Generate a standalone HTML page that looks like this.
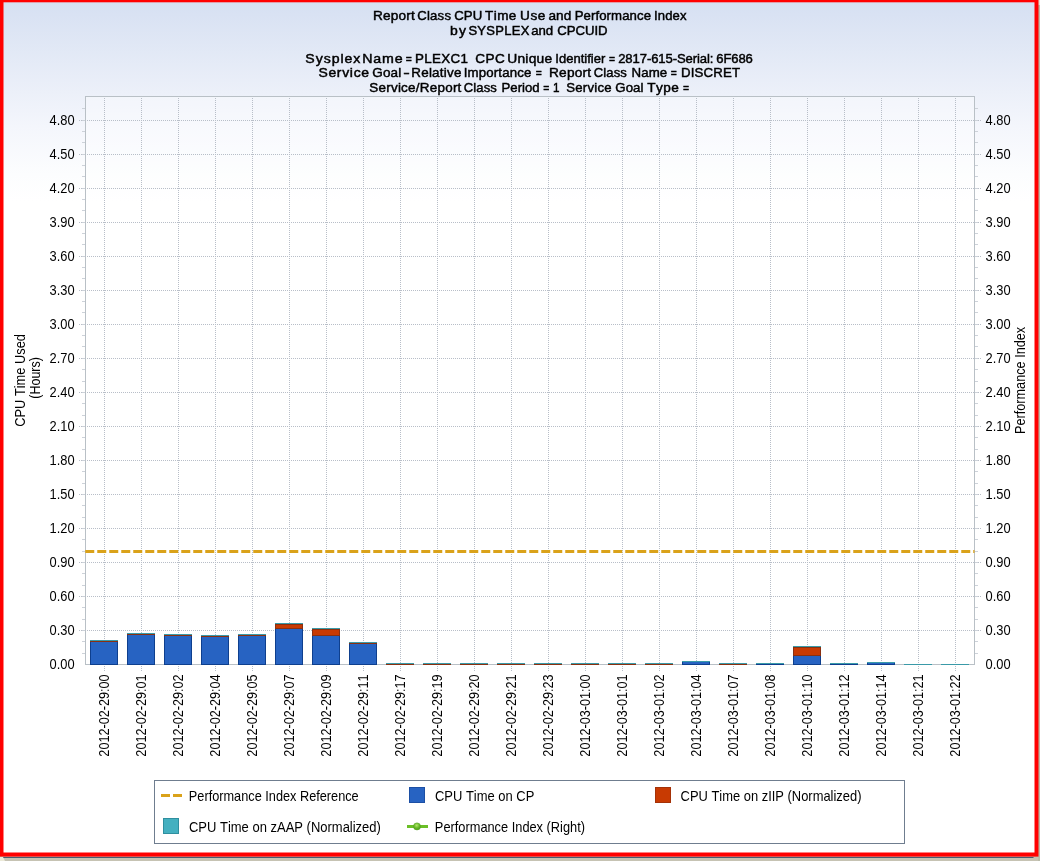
<!DOCTYPE html>
<html><head><meta charset="utf-8"><title>Report Class CPU Time Use and Performance Index</title>
<style>
html,body{margin:0;padding:0;background:#c6c3b3;}
body{width:1040px;height:861px;overflow:hidden;position:relative;font-family:"Liberation Sans",sans-serif;}
svg{position:absolute;left:0;top:0;display:block;font-family:"Liberation Sans",sans-serif;will-change:transform;}
text{font-kerning:none;}
.t{font-size:13px;fill:#000;stroke:#000;stroke-width:0.45px;text-anchor:middle;}
.a{font-size:14px;fill:#000;}
</style></head><body>
<svg width="1040" height="861" viewBox="0 0 1040 861">
<defs>
<linearGradient id="bg" x1="0" y1="0" x2="0" y2="1"><stop offset="0" stop-color="#d6e0f2"/><stop offset="0.1067" stop-color="#ecf0f9"/><stop offset="0.1467" stop-color="#f4f6fc"/><stop offset="0.202" stop-color="#fcfdfe"/><stop offset="0.234" stop-color="#ffffff"/><stop offset="1" stop-color="#ffffff"/></linearGradient>
<radialGradient id="ball" cx="0.45" cy="0.35" r="0.65"><stop offset="0" stop-color="#b4e66c"/><stop offset="0.55" stop-color="#6cbc2c"/><stop offset="1" stop-color="#4c9a1c"/></radialGradient>
</defs>
<rect x="0" y="0" width="1040" height="861" fill="#c6c3b3"/>
<rect x="1038" y="0" width="2" height="861" fill="#babcaa"/>
<rect x="1038" y="0" width="2" height="5" fill="#e6e4d4"/>
<rect x="0" y="857" width="1033.5" height="1" fill="#4b5b70"/>
<rect x="0" y="0" width="1038.5" height="856.6" fill="#ff0000"/>
<rect x="3.5" y="2.3" width="1031" height="850.2" fill="url(#bg)"/>
<path d="M0 857 L3 857 L5 861 L0 861 Z" fill="#ecead9"/>
<rect x="86" y="97" width="888" height="567" fill="#ffffff" fill-opacity="0.35"/>
<g stroke="#b8bec8" stroke-width="1" stroke-dasharray="1 1" shape-rendering="crispEdges"><line x1="87" y1="630.5" x2="974" y2="630.5"/><line x1="79" y1="630.5" x2="85" y2="630.5"/><line x1="976" y1="630.5" x2="981" y2="630.5"/><line x1="87" y1="596.5" x2="974" y2="596.5"/><line x1="79" y1="596.5" x2="85" y2="596.5"/><line x1="976" y1="596.5" x2="981" y2="596.5"/><line x1="87" y1="562.5" x2="974" y2="562.5"/><line x1="79" y1="562.5" x2="85" y2="562.5"/><line x1="976" y1="562.5" x2="981" y2="562.5"/><line x1="87" y1="528.5" x2="974" y2="528.5"/><line x1="79" y1="528.5" x2="85" y2="528.5"/><line x1="976" y1="528.5" x2="981" y2="528.5"/><line x1="87" y1="494.5" x2="974" y2="494.5"/><line x1="79" y1="494.5" x2="85" y2="494.5"/><line x1="976" y1="494.5" x2="981" y2="494.5"/><line x1="87" y1="460.5" x2="974" y2="460.5"/><line x1="79" y1="460.5" x2="85" y2="460.5"/><line x1="976" y1="460.5" x2="981" y2="460.5"/><line x1="87" y1="426.5" x2="974" y2="426.5"/><line x1="79" y1="426.5" x2="85" y2="426.5"/><line x1="976" y1="426.5" x2="981" y2="426.5"/><line x1="87" y1="392.5" x2="974" y2="392.5"/><line x1="79" y1="392.5" x2="85" y2="392.5"/><line x1="976" y1="392.5" x2="981" y2="392.5"/><line x1="87" y1="358.5" x2="974" y2="358.5"/><line x1="79" y1="358.5" x2="85" y2="358.5"/><line x1="976" y1="358.5" x2="981" y2="358.5"/><line x1="87" y1="324.5" x2="974" y2="324.5"/><line x1="79" y1="324.5" x2="85" y2="324.5"/><line x1="976" y1="324.5" x2="981" y2="324.5"/><line x1="87" y1="290.5" x2="974" y2="290.5"/><line x1="79" y1="290.5" x2="85" y2="290.5"/><line x1="976" y1="290.5" x2="981" y2="290.5"/><line x1="87" y1="256.5" x2="974" y2="256.5"/><line x1="79" y1="256.5" x2="85" y2="256.5"/><line x1="976" y1="256.5" x2="981" y2="256.5"/><line x1="87" y1="222.5" x2="974" y2="222.5"/><line x1="79" y1="222.5" x2="85" y2="222.5"/><line x1="976" y1="222.5" x2="981" y2="222.5"/><line x1="87" y1="188.5" x2="974" y2="188.5"/><line x1="79" y1="188.5" x2="85" y2="188.5"/><line x1="976" y1="188.5" x2="981" y2="188.5"/><line x1="87" y1="154.5" x2="974" y2="154.5"/><line x1="79" y1="154.5" x2="85" y2="154.5"/><line x1="976" y1="154.5" x2="981" y2="154.5"/><line x1="87" y1="120.5" x2="974" y2="120.5"/><line x1="79" y1="120.5" x2="85" y2="120.5"/><line x1="976" y1="120.5" x2="981" y2="120.5"/></g>
<g stroke="#b8bec8" stroke-width="1" stroke-dasharray="1 1" shape-rendering="crispEdges"><line x1="104.5" y1="98" x2="104.5" y2="671"/><line x1="141.5" y1="98" x2="141.5" y2="671"/><line x1="178.5" y1="98" x2="178.5" y2="671"/><line x1="215.5" y1="98" x2="215.5" y2="671"/><line x1="252.5" y1="98" x2="252.5" y2="671"/><line x1="289.5" y1="98" x2="289.5" y2="671"/><line x1="326.5" y1="98" x2="326.5" y2="671"/><line x1="363.5" y1="98" x2="363.5" y2="671"/><line x1="400.5" y1="98" x2="400.5" y2="671"/><line x1="437.5" y1="98" x2="437.5" y2="671"/><line x1="474.5" y1="98" x2="474.5" y2="671"/><line x1="511.5" y1="98" x2="511.5" y2="671"/><line x1="548.5" y1="98" x2="548.5" y2="671"/><line x1="585.5" y1="98" x2="585.5" y2="671"/><line x1="622.5" y1="98" x2="622.5" y2="671"/><line x1="659.5" y1="98" x2="659.5" y2="671"/><line x1="696.5" y1="98" x2="696.5" y2="671"/><line x1="733.5" y1="98" x2="733.5" y2="671"/><line x1="770.5" y1="98" x2="770.5" y2="671"/><line x1="807.5" y1="98" x2="807.5" y2="671"/><line x1="844.5" y1="98" x2="844.5" y2="671"/><line x1="881.5" y1="98" x2="881.5" y2="671"/><line x1="918.5" y1="98" x2="918.5" y2="671"/><line x1="955.5" y1="98" x2="955.5" y2="671"/></g>
<g fill="#cdd2d9" shape-rendering="crispEdges"><rect x="82" y="653" width="3" height="1"/><rect x="975" y="653" width="3" height="1"/><rect x="82" y="641" width="3" height="1"/><rect x="975" y="641" width="3" height="1"/><rect x="82" y="630" width="3" height="1"/><rect x="975" y="630" width="3" height="1"/><rect x="82" y="619" width="3" height="1"/><rect x="975" y="619" width="3" height="1"/><rect x="82" y="607" width="3" height="1"/><rect x="975" y="607" width="3" height="1"/><rect x="82" y="596" width="3" height="1"/><rect x="975" y="596" width="3" height="1"/><rect x="82" y="585" width="3" height="1"/><rect x="975" y="585" width="3" height="1"/><rect x="82" y="573" width="3" height="1"/><rect x="975" y="573" width="3" height="1"/><rect x="82" y="562" width="3" height="1"/><rect x="975" y="562" width="3" height="1"/><rect x="82" y="551" width="3" height="1"/><rect x="975" y="551" width="3" height="1"/><rect x="82" y="539" width="3" height="1"/><rect x="975" y="539" width="3" height="1"/><rect x="82" y="528" width="3" height="1"/><rect x="975" y="528" width="3" height="1"/><rect x="82" y="517" width="3" height="1"/><rect x="975" y="517" width="3" height="1"/><rect x="82" y="505" width="3" height="1"/><rect x="975" y="505" width="3" height="1"/><rect x="82" y="494" width="3" height="1"/><rect x="975" y="494" width="3" height="1"/><rect x="82" y="483" width="3" height="1"/><rect x="975" y="483" width="3" height="1"/><rect x="82" y="471" width="3" height="1"/><rect x="975" y="471" width="3" height="1"/><rect x="82" y="460" width="3" height="1"/><rect x="975" y="460" width="3" height="1"/><rect x="82" y="449" width="3" height="1"/><rect x="975" y="449" width="3" height="1"/><rect x="82" y="437" width="3" height="1"/><rect x="975" y="437" width="3" height="1"/><rect x="82" y="426" width="3" height="1"/><rect x="975" y="426" width="3" height="1"/><rect x="82" y="415" width="3" height="1"/><rect x="975" y="415" width="3" height="1"/><rect x="82" y="403" width="3" height="1"/><rect x="975" y="403" width="3" height="1"/><rect x="82" y="392" width="3" height="1"/><rect x="975" y="392" width="3" height="1"/><rect x="82" y="381" width="3" height="1"/><rect x="975" y="381" width="3" height="1"/><rect x="82" y="369" width="3" height="1"/><rect x="975" y="369" width="3" height="1"/><rect x="82" y="358" width="3" height="1"/><rect x="975" y="358" width="3" height="1"/><rect x="82" y="346" width="3" height="1"/><rect x="975" y="346" width="3" height="1"/><rect x="82" y="335" width="3" height="1"/><rect x="975" y="335" width="3" height="1"/><rect x="82" y="324" width="3" height="1"/><rect x="975" y="324" width="3" height="1"/><rect x="82" y="312" width="3" height="1"/><rect x="975" y="312" width="3" height="1"/><rect x="82" y="301" width="3" height="1"/><rect x="975" y="301" width="3" height="1"/><rect x="82" y="290" width="3" height="1"/><rect x="975" y="290" width="3" height="1"/><rect x="82" y="278" width="3" height="1"/><rect x="975" y="278" width="3" height="1"/><rect x="82" y="267" width="3" height="1"/><rect x="975" y="267" width="3" height="1"/><rect x="82" y="256" width="3" height="1"/><rect x="975" y="256" width="3" height="1"/><rect x="82" y="244" width="3" height="1"/><rect x="975" y="244" width="3" height="1"/><rect x="82" y="233" width="3" height="1"/><rect x="975" y="233" width="3" height="1"/><rect x="82" y="222" width="3" height="1"/><rect x="975" y="222" width="3" height="1"/><rect x="82" y="210" width="3" height="1"/><rect x="975" y="210" width="3" height="1"/><rect x="82" y="199" width="3" height="1"/><rect x="975" y="199" width="3" height="1"/><rect x="82" y="188" width="3" height="1"/><rect x="975" y="188" width="3" height="1"/><rect x="82" y="176" width="3" height="1"/><rect x="975" y="176" width="3" height="1"/><rect x="82" y="165" width="3" height="1"/><rect x="975" y="165" width="3" height="1"/><rect x="82" y="154" width="3" height="1"/><rect x="975" y="154" width="3" height="1"/><rect x="82" y="142" width="3" height="1"/><rect x="975" y="142" width="3" height="1"/><rect x="82" y="131" width="3" height="1"/><rect x="975" y="131" width="3" height="1"/><rect x="82" y="120" width="3" height="1"/><rect x="975" y="120" width="3" height="1"/><rect x="82" y="108" width="3" height="1"/><rect x="975" y="108" width="3" height="1"/></g>
<g fill="#b9c0c6" shape-rendering="crispEdges"><rect x="85" y="96" width="890" height="1"/><rect x="85" y="96" width="1" height="569"/><rect x="974" y="96" width="1" height="569"/><rect x="85" y="664" width="890" height="1"/></g>
<g shape-rendering="crispEdges"><rect x="90" y="642" width="28" height="23" fill="#0e3f8e"/><rect x="91" y="642" width="26" height="22" fill="#2763c2"/><rect x="90" y="641" width="28" height="1" fill="#8a3010"/><rect x="90" y="640" width="28" height="1" fill="#3a9aa8"/><rect x="127" y="635" width="28" height="30" fill="#0e3f8e"/><rect x="128" y="635" width="26" height="29" fill="#2763c2"/><rect x="127" y="634" width="28" height="1" fill="#8a3010"/><rect x="127" y="633" width="28" height="1" fill="#3a9aa8"/><rect x="164" y="636" width="28" height="29" fill="#0e3f8e"/><rect x="165" y="636" width="26" height="28" fill="#2763c2"/><rect x="164" y="635" width="28" height="1" fill="#8a3010"/><rect x="164" y="634" width="28" height="1" fill="#3a9aa8"/><rect x="201" y="637" width="28" height="28" fill="#0e3f8e"/><rect x="202" y="637" width="26" height="27" fill="#2763c2"/><rect x="201" y="636" width="28" height="1" fill="#8a3010"/><rect x="201" y="635" width="28" height="1" fill="#3a9aa8"/><rect x="238" y="636" width="28" height="29" fill="#0e3f8e"/><rect x="239" y="636" width="26" height="28" fill="#2763c2"/><rect x="238" y="635" width="28" height="1" fill="#8a3010"/><rect x="238" y="634" width="28" height="1" fill="#3a9aa8"/><rect x="275" y="629" width="28" height="36" fill="#0e3f8e"/><rect x="276" y="629" width="26" height="35" fill="#2763c2"/><rect x="275" y="624" width="28" height="5" fill="#8a3010"/><rect x="276" y="625" width="26" height="3" fill="#c83a02"/><rect x="275" y="623" width="28" height="1" fill="#3a9aa8"/><rect x="312" y="636" width="28" height="29" fill="#0e3f8e"/><rect x="313" y="636" width="26" height="28" fill="#2763c2"/><rect x="312" y="629" width="28" height="7" fill="#8a3010"/><rect x="313" y="630" width="26" height="5" fill="#c83a02"/><rect x="312" y="628" width="28" height="1" fill="#3a9aa8"/><rect x="349" y="644" width="28" height="21" fill="#0e3f8e"/><rect x="350" y="644" width="26" height="20" fill="#2763c2"/><rect x="349" y="643" width="28" height="1" fill="#8a3010"/><rect x="349" y="642" width="28" height="1" fill="#3a9aa8"/><rect x="386" y="664" width="28" height="1" fill="#8a3010"/><rect x="386" y="663" width="28" height="1" fill="#3a9aa8"/><rect x="423" y="664" width="28" height="1" fill="#8a3010"/><rect x="423" y="663" width="28" height="1" fill="#3a9aa8"/><rect x="460" y="664" width="28" height="1" fill="#8a3010"/><rect x="460" y="663" width="28" height="1" fill="#3a9aa8"/><rect x="497" y="664" width="28" height="1" fill="#8a3010"/><rect x="497" y="663" width="28" height="1" fill="#3a9aa8"/><rect x="534" y="664" width="28" height="1" fill="#8a3010"/><rect x="534" y="663" width="28" height="1" fill="#3a9aa8"/><rect x="571" y="664" width="28" height="1" fill="#8a3010"/><rect x="571" y="663" width="28" height="1" fill="#3a9aa8"/><rect x="608" y="664" width="28" height="1" fill="#8a3010"/><rect x="608" y="663" width="28" height="1" fill="#3a9aa8"/><rect x="645" y="664" width="28" height="1" fill="#8a3010"/><rect x="645" y="663" width="28" height="1" fill="#3a9aa8"/><rect x="682" y="662" width="28" height="3" fill="#0e3f8e"/><rect x="683" y="662" width="26" height="2" fill="#2763c2"/><rect x="682" y="661" width="28" height="1" fill="#3a9aa8"/><rect x="719" y="664" width="28" height="1" fill="#8a3010"/><rect x="719" y="663" width="28" height="1" fill="#3a9aa8"/><rect x="756" y="664" width="28" height="1" fill="#0e3f8e"/><rect x="756" y="663" width="28" height="1" fill="#3a9aa8"/><rect x="793" y="656" width="28" height="9" fill="#0e3f8e"/><rect x="794" y="656" width="26" height="8" fill="#2763c2"/><rect x="793" y="647" width="28" height="9" fill="#8a3010"/><rect x="794" y="648" width="26" height="7" fill="#c83a02"/><rect x="793" y="646" width="28" height="1" fill="#3a9aa8"/><rect x="830" y="664" width="28" height="1" fill="#0e3f8e"/><rect x="830" y="663" width="28" height="1" fill="#3a9aa8"/><rect x="867" y="663" width="28" height="2" fill="#0e3f8e"/><rect x="868" y="663" width="26" height="1" fill="#2763c2"/><rect x="867" y="662" width="28" height="1" fill="#3a9aa8"/><rect x="904" y="664" width="28" height="1" fill="#3a9aa8"/><rect x="941" y="664" width="28" height="1" fill="#3a9aa8"/></g>
<line x1="85.25" y1="551.5" x2="974.5" y2="551.5" stroke="#daa21a" stroke-width="3" stroke-dasharray="9 3"/>
<text class="t" style="text-anchor:start" transform="translate(373.05,20.0) scale(1.0493,1)" textLength="39.79" lengthAdjust="spacing">Report</text>
<text class="t" style="text-anchor:start" transform="translate(417.20,20.0) scale(1.0121,1)" textLength="33.40" lengthAdjust="spacing">Class</text>
<text class="t" style="text-anchor:start" transform="translate(454.30,20.0) scale(1.0167,1)" textLength="27.44" lengthAdjust="spacing">CPU</text>
<text class="t" style="text-anchor:start" transform="translate(485.05,20.0) scale(1.0397,1)" textLength="30.11" lengthAdjust="spacing">Time</text>
<text class="t" style="text-anchor:start" transform="translate(520.05,20.0) scale(1.0500,1)" textLength="24.10" lengthAdjust="spacing">Use</text>
<text class="t" style="text-anchor:start" transform="translate(548.40,20.0) scale(1.0464,1)" textLength="21.93" lengthAdjust="spacing">and</text>
<text class="t" style="text-anchor:start" transform="translate(574.70,20.0) scale(1.0155,1)" textLength="75.13" lengthAdjust="spacing">Performance</text>
<text class="t" style="text-anchor:start" transform="translate(654.05,20.0) scale(1.0086,1)" textLength="32.27" lengthAdjust="spacing">Index</text>
<text class="t" style="text-anchor:start" transform="translate(449.90,34.5) scale(1.0750,1)" textLength="14.98" lengthAdjust="spacing">by</text>
<text class="t" style="text-anchor:start" transform="translate(468.40,34.5) scale(0.9996,1)" textLength="60.97" lengthAdjust="spacing">SYSPLEX</text>
<text class="t" style="text-anchor:start" transform="translate(531.30,34.5) scale(1.0190,1)" textLength="21.39" lengthAdjust="spacing">and</text>
<text class="t" style="text-anchor:start" transform="translate(557.20,34.5) scale(1.0143,1)" textLength="49.69" lengthAdjust="spacing">CPCUID</text>
<text class="t" style="text-anchor:start" transform="translate(305.30,62.7) scale(1.0856,1)" textLength="50.71" lengthAdjust="spacing">Sysplex</text>
<text class="t" style="text-anchor:start" transform="translate(362.20,62.7) scale(1.0941,1)" textLength="36.92" lengthAdjust="spacing">Name</text>
<text class="t" transform="translate(408.68,62.7) scale(0.8,1)">=</text>
<text class="t" style="text-anchor:start" transform="translate(415.05,62.7) scale(1.0280,1)" textLength="51.36" lengthAdjust="spacing">PLEXC1</text>
<text class="t" style="text-anchor:start" transform="translate(475.30,62.7) scale(1.0444,1)" textLength="28.15" lengthAdjust="spacing">CPC</text>
<text class="t" style="text-anchor:start" transform="translate(507.20,62.7) scale(1.0625,1)" textLength="42.35" lengthAdjust="spacing">Unique</text>
<text class="t" style="text-anchor:start" transform="translate(555.30,62.7) scale(1.0005,1)" textLength="50.02" lengthAdjust="spacing">Identifier</text>
<text class="t" transform="translate(611.92,62.7) scale(0.8,1)">=</text>
<text class="t" style="text-anchor:start" transform="translate(618.20,62.7) scale(1.0069,1)" textLength="94.65" lengthAdjust="spacing">2817-615-Serial:</text>
<text class="t" style="text-anchor:start" transform="translate(716.30,62.7) scale(1.0076,1)" textLength="36.27" lengthAdjust="spacing">6F686</text>
<text class="t" style="text-anchor:start" transform="translate(318.40,77.3) scale(1.0761,1)" textLength="47.11" lengthAdjust="spacing">Service</text>
<text class="t" style="text-anchor:start" transform="translate(372.20,77.3) scale(1.0398,1)" textLength="28.03" lengthAdjust="spacing">Goal</text>
<text class="t" transform="translate(406.43,77.3) scale(1.5,1)">-</text>
<text class="t" style="text-anchor:start" transform="translate(411.30,77.3) scale(1.0324,1)" textLength="48.48" lengthAdjust="spacing">Relative</text>
<text class="t" style="text-anchor:start" transform="translate(463.80,77.3) scale(1.0196,1)" textLength="66.25" lengthAdjust="spacing">Importance</text>
<text class="t" transform="translate(538.67,77.3) scale(0.8,1)">=</text>
<text class="t" style="text-anchor:start" transform="translate(549.05,77.3) scale(1.0520,1)" textLength="39.88" lengthAdjust="spacing">Report</text>
<text class="t" style="text-anchor:start" transform="translate(593.80,77.3) scale(1.0008,1)" textLength="33.02" lengthAdjust="spacing">Class</text>
<text class="t" style="text-anchor:start" transform="translate(631.55,77.3) scale(1.0243,1)" textLength="34.81" lengthAdjust="spacing">Name</text>
<text class="t" transform="translate(673.90,77.3) scale(0.8,1)">=</text>
<text class="t" style="text-anchor:start" transform="translate(680.90,77.3) scale(1.0193,1)" textLength="58.08" lengthAdjust="spacing">DISCRET</text>
<text class="t" style="text-anchor:start" transform="translate(369.30,91.6) scale(1.0352,1)" textLength="88.92" lengthAdjust="spacing">Service/Report</text>
<text class="t" style="text-anchor:start" transform="translate(463.80,91.6) scale(1.0008,1)" textLength="33.02" lengthAdjust="spacing">Class</text>
<text class="t" style="text-anchor:start" transform="translate(501.55,91.6) scale(1.0155,1)" textLength="37.57" lengthAdjust="spacing">Period</text>
<text class="t" transform="translate(546.30,91.6) scale(0.8,1)">=</text>
<text class="t" transform="translate(556.27,91.6) scale(0.9,1)">1</text>
<text class="t" style="text-anchor:start" transform="translate(566.30,91.6) scale(1.0148,1)" textLength="44.64" lengthAdjust="spacing">Service</text>
<text class="t" style="text-anchor:start" transform="translate(615.30,91.6) scale(1.0222,1)" textLength="27.59" lengthAdjust="spacing">Goal</text>
<text class="t" style="text-anchor:start" transform="translate(647.20,91.6) scale(1.0457,1)" textLength="30.27" lengthAdjust="spacing">Type</text>
<text class="t" transform="translate(686.00,91.6) scale(0.8,1)">=</text>
<text class="a" transform="translate(49.57,669) scale(0.9187,1)">0.00</text>
<text class="a" transform="translate(985.52,669) scale(0.9187,1)">0.00</text>
<text class="a" transform="translate(49.57,635) scale(0.9187,1)">0.30</text>
<text class="a" transform="translate(985.52,635) scale(0.9187,1)">0.30</text>
<text class="a" transform="translate(49.57,601) scale(0.9187,1)">0.60</text>
<text class="a" transform="translate(985.52,601) scale(0.9187,1)">0.60</text>
<text class="a" transform="translate(49.57,567) scale(0.9187,1)">0.90</text>
<text class="a" transform="translate(985.52,567) scale(0.9187,1)">0.90</text>
<text class="a" transform="translate(49.57,533) scale(0.9187,1)">1.20</text>
<text class="a" transform="translate(985.52,533) scale(0.9187,1)">1.20</text>
<text class="a" transform="translate(49.57,499) scale(0.9187,1)">1.50</text>
<text class="a" transform="translate(985.52,499) scale(0.9187,1)">1.50</text>
<text class="a" transform="translate(49.57,465) scale(0.9187,1)">1.80</text>
<text class="a" transform="translate(985.52,465) scale(0.9187,1)">1.80</text>
<text class="a" transform="translate(49.57,431) scale(0.9187,1)">2.10</text>
<text class="a" transform="translate(985.52,431) scale(0.9187,1)">2.10</text>
<text class="a" transform="translate(49.57,397) scale(0.9187,1)">2.40</text>
<text class="a" transform="translate(985.52,397) scale(0.9187,1)">2.40</text>
<text class="a" transform="translate(49.57,363) scale(0.9187,1)">2.70</text>
<text class="a" transform="translate(985.52,363) scale(0.9187,1)">2.70</text>
<text class="a" transform="translate(49.57,329) scale(0.9187,1)">3.00</text>
<text class="a" transform="translate(985.52,329) scale(0.9187,1)">3.00</text>
<text class="a" transform="translate(49.57,295) scale(0.9187,1)">3.30</text>
<text class="a" transform="translate(985.52,295) scale(0.9187,1)">3.30</text>
<text class="a" transform="translate(49.57,261) scale(0.9187,1)">3.60</text>
<text class="a" transform="translate(985.52,261) scale(0.9187,1)">3.60</text>
<text class="a" transform="translate(49.57,227) scale(0.9187,1)">3.90</text>
<text class="a" transform="translate(985.52,227) scale(0.9187,1)">3.90</text>
<text class="a" transform="translate(49.57,193) scale(0.9187,1)">4.20</text>
<text class="a" transform="translate(985.52,193) scale(0.9187,1)">4.20</text>
<text class="a" transform="translate(49.57,159) scale(0.9187,1)">4.50</text>
<text class="a" transform="translate(985.52,159) scale(0.9187,1)">4.50</text>
<text class="a" transform="translate(49.57,125) scale(0.9187,1)">4.80</text>
<text class="a" transform="translate(985.52,125) scale(0.9187,1)">4.80</text>
<text class="a" transform="translate(25.05,426.72) rotate(-90) scale(0.9173,1)">CPU Time Used</text>
<text class="a" transform="translate(40.0,398.76) rotate(-90) scale(0.8954,1)">(Hours)</text>
<text class="a" transform="translate(1024.95,434.00) rotate(-90) scale(0.9063,1)">Performance Index</text>
<text class="a" transform="translate(109.1,756.63) rotate(-90) scale(0.9027,1)">2012-02-29:00</text>
<text class="a" transform="translate(146.1,756.63) rotate(-90) scale(0.9027,1)">2012-02-29:01</text>
<text class="a" transform="translate(183.1,756.63) rotate(-90) scale(0.9027,1)">2012-02-29:02</text>
<text class="a" transform="translate(220.1,756.63) rotate(-90) scale(0.9027,1)">2012-02-29:04</text>
<text class="a" transform="translate(257.1,756.63) rotate(-90) scale(0.9027,1)">2012-02-29:05</text>
<text class="a" transform="translate(294.1,756.63) rotate(-90) scale(0.9027,1)">2012-02-29:07</text>
<text class="a" transform="translate(331.1,756.63) rotate(-90) scale(0.9027,1)">2012-02-29:09</text>
<text class="a" transform="translate(368.1,756.63) rotate(-90) scale(0.9027,1)">2012-02-29:11</text>
<text class="a" transform="translate(405.1,756.63) rotate(-90) scale(0.9027,1)">2012-02-29:17</text>
<text class="a" transform="translate(442.1,756.63) rotate(-90) scale(0.9027,1)">2012-02-29:19</text>
<text class="a" transform="translate(479.1,756.63) rotate(-90) scale(0.9027,1)">2012-02-29:20</text>
<text class="a" transform="translate(516.1,756.63) rotate(-90) scale(0.9027,1)">2012-02-29:21</text>
<text class="a" transform="translate(553.1,756.63) rotate(-90) scale(0.9027,1)">2012-02-29:23</text>
<text class="a" transform="translate(590.1,756.63) rotate(-90) scale(0.9027,1)">2012-03-01:00</text>
<text class="a" transform="translate(627.1,756.63) rotate(-90) scale(0.9027,1)">2012-03-01:01</text>
<text class="a" transform="translate(664.1,756.63) rotate(-90) scale(0.9027,1)">2012-03-01:02</text>
<text class="a" transform="translate(701.1,756.63) rotate(-90) scale(0.9027,1)">2012-03-01:04</text>
<text class="a" transform="translate(738.1,756.63) rotate(-90) scale(0.9027,1)">2012-03-01:07</text>
<text class="a" transform="translate(775.1,756.63) rotate(-90) scale(0.9027,1)">2012-03-01:08</text>
<text class="a" transform="translate(812.1,756.63) rotate(-90) scale(0.9027,1)">2012-03-01:10</text>
<text class="a" transform="translate(849.1,756.63) rotate(-90) scale(0.9027,1)">2012-03-01:12</text>
<text class="a" transform="translate(886.1,756.63) rotate(-90) scale(0.9027,1)">2012-03-01:14</text>
<text class="a" transform="translate(923.1,756.63) rotate(-90) scale(0.9027,1)">2012-03-01:21</text>
<text class="a" transform="translate(960.1,756.63) rotate(-90) scale(0.9027,1)">2012-03-01:22</text>
<rect x="154.5" y="780.5" width="750" height="63" fill="#ffffff" stroke="#6f7d8f" stroke-width="1" shape-rendering="crispEdges"/>
<line x1="161" y1="795.5" x2="182" y2="795.5" stroke="#daa21a" stroke-width="3" stroke-dasharray="9 3"/>
<text class="a" transform="translate(188.85,801) scale(0.9101,1)">Performance Index Reference</text>
<rect x="409.5" y="787.5" width="15" height="15" fill="#2763c2" stroke="#1c4fa4" stroke-width="1" shape-rendering="crispEdges"/>
<text class="a" transform="translate(434.95,801) scale(0.9264,1)">CPU Time on CP</text>
<rect x="655.5" y="787.5" width="15" height="15" fill="#c83a02" stroke="#a43208" stroke-width="1" shape-rendering="crispEdges"/>
<text class="a" transform="translate(680.55,801) scale(0.9232,1)">CPU Time on zIIP (Normalized)</text>
<rect x="163.5" y="818.5" width="15" height="15" fill="#44b0c0" stroke="#2f8f9f" stroke-width="1" shape-rendering="crispEdges"/>
<text class="a" transform="translate(188.95,832) scale(0.9277,1)">CPU Time on zAAP (Normalized)</text>
<rect x="407" y="825" width="21" height="3" fill="#6bbf27"/>
<circle cx="417" cy="826.4" r="3.5" fill="url(#ball)" stroke="#58a824" stroke-width="0.7"/>
<text class="a" transform="translate(434.85,832) scale(0.9156,1)">Performance Index (Right)</text>
</svg>
</body></html>
